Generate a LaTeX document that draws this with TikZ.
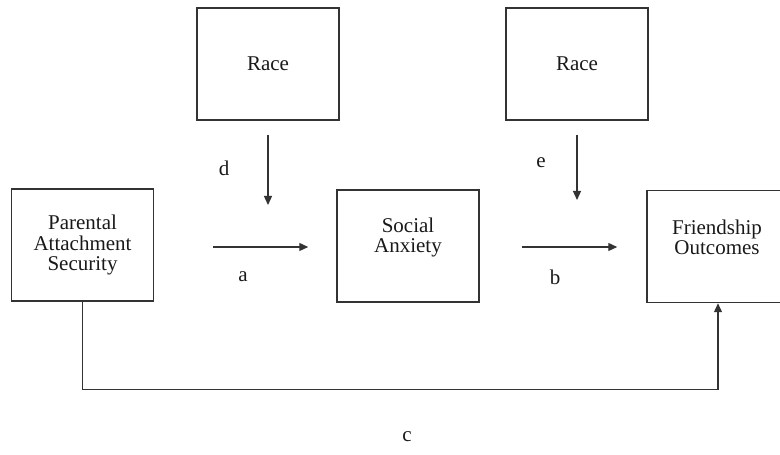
\documentclass[tikz,border=0pt]{standalone}
\usepackage{fontspec}
\setmainfont{Liberation Serif}
\usetikzlibrary{arrows.meta}

\begin{document}
\begin{tikzpicture}[x=1pt,y=1pt,
    box/.style={draw=black!80,line width=1.5pt,minimum width=142pt,minimum height=112pt,inner sep=0pt},
    lbl/.style={font=\fontsize{21}{20.5}\selectfont,align=center,text=black!90},
    arr/.style={draw=black!80,line width=1.3pt,-{Triangle[length=9pt,width=8pt]}}]
  \useasboundingbox (0,0) rectangle (780,455);
  % moderators
  \node[box,lbl] (race1) at (268,391) {Race};
  \node[box,lbl] (race2) at (577,391) {Race};
  % main path
  \node[box,lbl] (parent) at (82.5,210) {Parental\\Attachment\\Security};
  \node[box] (social) at (408,209) {};
  \node[lbl] (social-t) at (408,217.5) {Social\\Anxiety};
  \node[box] (friend) at (718,208.5) {};
  \node[lbl] (friend-t) at (717,217.5) {Friendship\\Outcomes};
  % paths a and b
  \draw[arr,shorten <=59pt,shorten >=28pt] ([yshift=-2pt]parent.east) -- ([yshift=-1pt]social.west);
  \draw[arr,shorten <=42pt,shorten >=29pt] ([yshift=-1pt]social.east) -- ([yshift=-0.5pt]friend.west);
  % moderation d and e
  \coordinate (d-end) at (268,250);
  \coordinate (e-end) at (577,255);
  \draw[arr,shorten <=14pt] (race1.south) -- (d-end);
  \draw[arr,shorten <=14pt] (race2.south) -- (e-end);
  % direct path c
  \draw[arr] (parent.south) -- ++(0,-88) -| (friend.south);
  % path labels
  \node[lbl] (lab-a) at (243,178) {a};
  \node[lbl] (lab-b) at (555,178) {b};
  \node[lbl] (lab-c) at (407,18) {c};
  \node[lbl] (lab-d) at (224,287) {d};
  \node[lbl] (lab-e) at (541,292) {e};
\end{tikzpicture}
\end{document}
